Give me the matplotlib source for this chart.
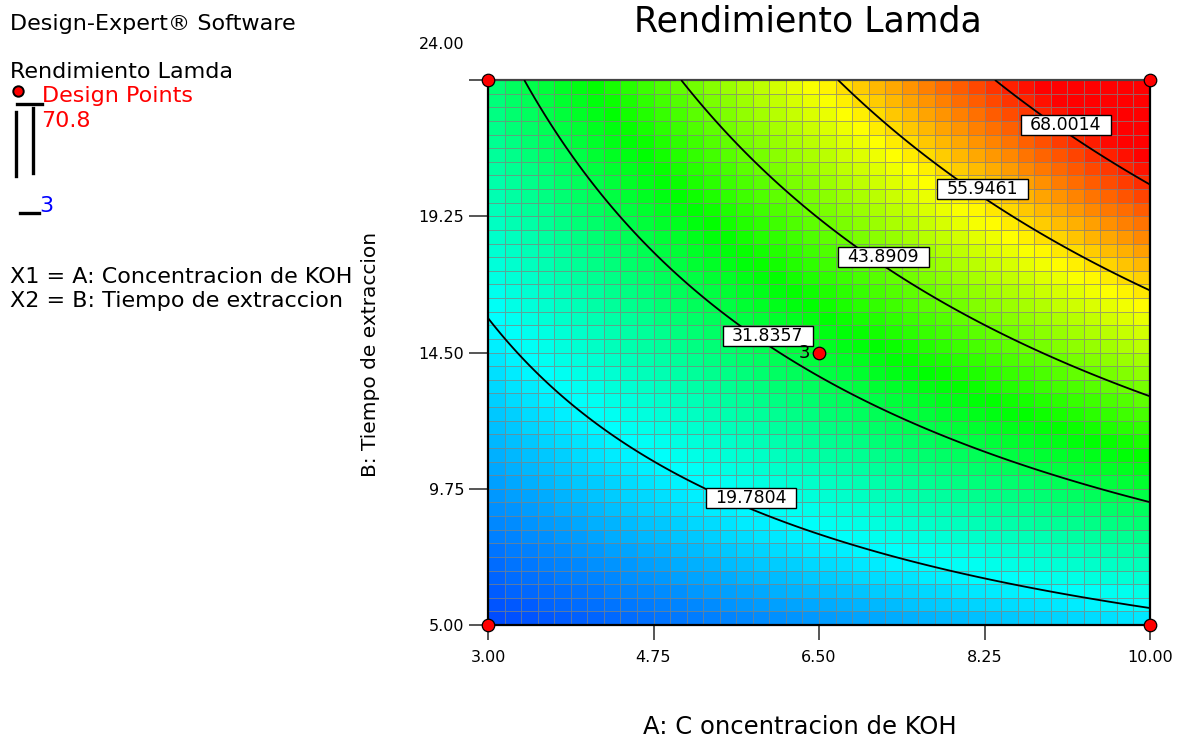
import numpy as np
import matplotlib
matplotlib.use("Agg")
import matplotlib.pyplot as plt
from matplotlib.colors import LinearSegmentedColormap
from matplotlib.lines import Line2D

plt.rcParams["font.family"] = ["DejaVu Sans"]

# Factor ranges
a_range = [3.0, 10.0]    # A: Concentracion de KOH
b_range = [5.0, 24.0]    # B: Tiempo de extraccion

a_ticks = [3.00, 4.75, 6.50, 8.25, 10.00]
b_ticks = [5.00, 9.75, 14.50, 19.25, 24.00]

# Fitted 2FI model in coded units (-1..+1): intercept, A, B, AB
coef_intercept = 33.66
coef_a = 15.22
coef_b = 20.82
coef_ab = 10.21

# Design points (factorial corners + center point)
design_a = [3.0, 10.0, 3.0, 10.0, 6.5]
design_b = [5.0, 5.0, 24.0, 24.0, 14.5]
center_reps = 3

# Observed response range of the design points
resp_high = 70.8
resp_low = 3.0

# Contour levels and where their labels sit
contour_levels = [19.7804, 31.8357, 43.8909, 55.9461, 68.0014]
label_a = [5.78, 5.96, 7.18, 8.23, 9.11]
label_b = [9.43, 15.07, 17.83, 20.20, 22.43]


def predict(a, b):
    ca = (a - (a_range[0] + a_range[1]) / 2) / ((a_range[1] - a_range[0]) / 2)
    cb = (b - (b_range[0] + b_range[1]) / 2) / ((b_range[1] - b_range[0]) / 2)
    return coef_intercept + coef_a * ca + coef_b * cb + coef_ab * ca * cb


cmap = LinearSegmentedColormap.from_list(
    "de_rainbow", ["#0000ff", "#00ffff", "#00ff00", "#ffff00", "#ff0000"])

W, H = 1187, 740
fig = plt.figure(figsize=(W / 100, H / 100), dpi=100)

# Pixel-space overlay for the side legend and loose labels
ov = fig.add_axes([0, 0, 1, 1])
ov.set_xlim(0, W)
ov.set_ylim(H, 0)
ov.axis("off")

ax = fig.add_axes([488 / W, 1 - 625 / H, 662 / W, 545 / H])

# Coloured cell grid
n_cells = 40
a_edges = np.linspace(a_range[0], a_range[1], n_cells + 1)
b_edges = np.linspace(b_range[0], b_range[1], n_cells + 1)
a_mid = (a_edges[:-1] + a_edges[1:]) / 2
b_mid = (b_edges[:-1] + b_edges[1:]) / 2
AM, BM = np.meshgrid(a_mid, b_mid)
ax.pcolormesh(a_edges, b_edges, predict(AM, BM), cmap=cmap,
              vmin=resp_low, vmax=resp_high, shading="flat",
              edgecolors=(0.50, 0.50, 0.50, 0.7), linewidth=0.7)

# Contour lines
af = np.linspace(a_range[0], a_range[1], 400)
bf = np.linspace(b_range[0], b_range[1], 400)
AF, BF = np.meshgrid(af, bf)
ax.contour(AF, BF, predict(AF, BF), levels=contour_levels,
           colors="black", linewidths=1.3, zorder=3)

for lvl, la, lb in zip(contour_levels, label_a, label_b):
    ax.text(la, lb, f"{lvl:.4f}", ha="center", va="center", fontsize=12.5,
            zorder=5,
            bbox=dict(boxstyle="square,pad=0.55", mutation_aspect=0.12,
                      fc="white", ec="black", lw=1.0))

# Design points
ax.plot(design_a, design_b, "o", color="#ff0000", mec="black", mew=0.9,
        ms=9, clip_on=False, zorder=6)
ax.annotate(str(center_reps), (design_a[-1], design_b[-1]),
            xytext=(-9, 0), textcoords="offset pixels",
            ha="right", va="center", fontsize=13, zorder=6)

ax.set_xlim(*a_range)
ax.set_ylim(*b_range)
ax.set_xticks(a_ticks)
ax.set_xticklabels([f"{v:.2f}" for v in a_ticks])
ax.set_yticks(b_ticks)
ax.set_yticklabels([f"{v:.2f}" for v in b_ticks[:-1]] + [""])
ax.tick_params(axis="x", length=11, width=1.4, color="#555555", pad=7,
               labelsize=11.5)
ax.tick_params(axis="y", length=14, width=1.4, color="#555555", pad=3,
               labelsize=11.5)
for side in ["left", "right", "bottom"]:
    ax.spines[side].set_linewidth(1.6)
    ax.spines[side].set_color("black")
ax.spines["top"].set_linewidth(1.6)
ax.spines["top"].set_color("#444444")

# Top tick label sits above the frame
ov.text(464, 49, f"{b_ticks[-1]:.2f}", ha="right", va="baseline", fontsize=11.5)

# Title and axis titles
ov.text(808, 32, "Rendimiento Lamda", ha="center", va="baseline", fontsize=25)
ov.text(800, 727, "A: C oncentracion de KOH", ha="center", va="center",
        fontsize=17.5)
ov.text(370, 354, "B: Tiempo de extraccion", ha="center", va="center",
        rotation=90, fontsize=14.5)

# Side legend
fs_side = 16
ov.text(10, 30, "Design-Expert\u00ae Software", ha="left", va="baseline",
        fontsize=fs_side)
ov.text(10, 78, "Rendimiento Lamda", ha="left", va="baseline", fontsize=fs_side)
ov.plot([18], [91], "o", color="#ff0000", mec="black", mew=1.4, ms=7.5)
ov.add_line(Line2D([17, 42], [104, 104], color="black", lw=2.4))
ov.text(42, 102.5, "Design Points", ha="left", va="baseline", fontsize=fs_side,
        color="#ff0000")
ov.add_line(Line2D([15.5, 15.5], [112, 176], color="black", lw=2.4))
ov.add_line(Line2D([33, 33], [108, 173], color="black", lw=2.4))
ov.text(41, 127, f"{resp_high}", ha="left", va="baseline", fontsize=fs_side,
        color="#ff0000")
ov.add_line(Line2D([20, 39], [213, 213], color="black", lw=2.4))
ov.text(39, 212, f"{resp_low:g}", ha="left", va="baseline", fontsize=fs_side,
        color="#0000ff")
ov.text(10, 283, "X1 = A: Concentracion de KOH", ha="left", va="baseline",
        fontsize=fs_side)
ov.text(10, 307, "X2 = B: Tiempo de extraccion", ha="left", va="baseline",
        fontsize=fs_side)

fig.savefig("out.png", dpi=100)
